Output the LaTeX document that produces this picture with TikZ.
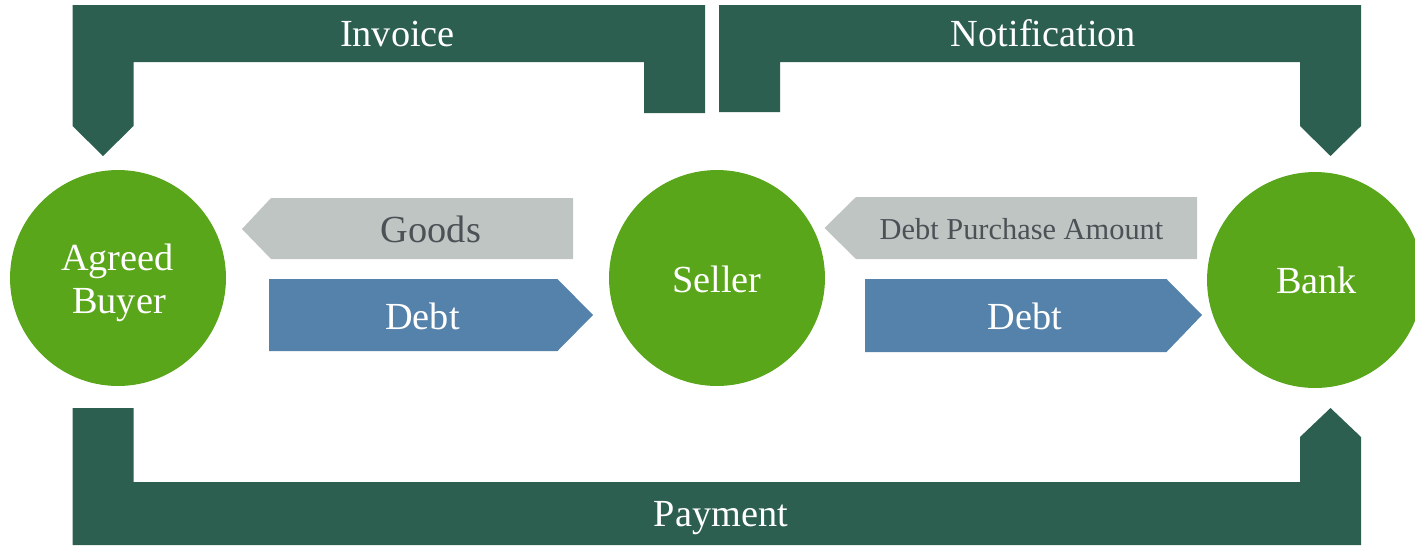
\documentclass[tikz,border=0pt]{standalone}
\usepackage{fontspec}
\setmainfont{Liberation Serif}
\definecolor{band}{HTML}{2D5F50}
\definecolor{partygreen}{HTML}{5AA61A}
\definecolor{backflow}{HTML}{BFC5C3}
\definecolor{forthflow}{HTML}{5582AB}
\definecolor{darktext}{HTML}{4B5155}
\newcommand{\mainsize}{\fontsize{21.8}{24.4}\selectfont}
\newcommand{\smallsize}{\fontsize{17.3}{20}\selectfont}
\begin{document}
\begin{tikzpicture}[x=0.02cm,y=-0.02cm,
  party/.style={circle, fill=partygreen, minimum size=4.32cm, inner sep=0pt},
  txt/.style={anchor=base, inner sep=0pt, text=white, font=\mainsize},
  graytxt/.style={txt, text=darktext},
  bandfill/.style={fill=band},
  backfill/.style={fill=backflow},
  forthfill/.style={fill=forthflow}]
\clip (0,0) rectangle (1415,545);

% top-left bracket: Invoice, arrow down to the buyer
\fill[bandfill] (72.5,5) -- (705,5) -- (705,113) -- (644,113) -- (644,62)
  -- (133.5,62) -- (133.5,126) -- (103,156) -- (72.5,126) -- cycle;
% top-right bracket: Notification, arrow down to the bank
\fill[bandfill] (719,5) -- (1361,5) -- (1361,126) -- (1330.5,156) -- (1300,126)
  -- (1300,62) -- (780,62) -- (780,112) -- (719,112) -- cycle;
% bottom bracket: Payment, arrow up to the bank
\fill[bandfill] (72.5,408) -- (133.5,408) -- (133.5,482) -- (1300,482) -- (1300,437)
  -- (1330.5,408) -- (1361,437) -- (1361,545) -- (72.5,545) -- cycle;

% parties
\node[party] (buyer)  at (118,278) {};
\node[party] (seller) at (717,278) {};
\node[party] (bank)   at (1315,280) {};

% flows between the parties
\fill[backfill]  (242,229) -- (271,198) -- (573,198) -- (573,259) -- (271,259) -- cycle;
\fill[forthfill] (269,279) -- (557.5,279) -- (593,315) -- (557.5,351) -- (269,351) -- cycle;
\fill[backfill]  (824.5,228) -- (856,197) -- (1197,197) -- (1197,259) -- (856,259) -- cycle;
\fill[forthfill] (865,279) -- (1166.5,279) -- (1202,315) -- (1166.5,352) -- (865,352) -- cycle;

% labels
\node[txt] (invoice) at (397.5,46) {Invoice};
\node[txt] (notification) at (1043.5,46) {Notification};
\node[txt] (payment) at (721,526) {Payment};
\node[txt] (agreed) at (117.5,270) {Agreed};
\node[txt] (buyerword) at (119,313) {Buyer};
\node[txt] (sellerword) at (717,292) {Seller};
\node[txt] (bankword) at (1316.5,293) {Bank};
\node[graytxt] (goods) at (431,242) {Goods};
\node[txt] (debtleft) at (422.5,329) {Debt};
\node[graytxt, font=\smallsize] (purchase) at (1021.5,239) {Debt Purchase Amount};
\node[txt] (debtright) at (1025,329) {Debt};
\end{tikzpicture}
\end{document}
